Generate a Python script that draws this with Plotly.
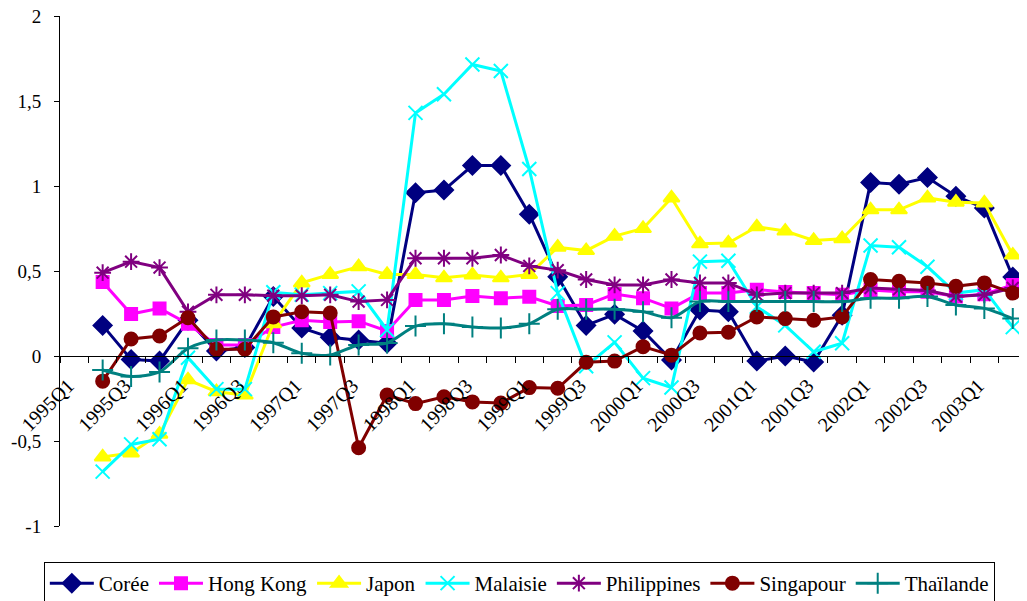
import plotly.graph_objects as go

# Quarters on the category axis (first category has no data)
quarters = [f"{y}Q{q}" for y in range(1995, 2004) for q in range(1, 5)][:34]
tick_labels = quarters[0:33:2]

coree = [0.18, -0.02, -0.03, 0.21, 0.03, 0.05, 0.35, 0.165, 0.11, 0.094, 0.075,
         0.96, 0.976, 1.12, 1.12, 0.834, 0.466, 0.18, 0.245, 0.147, -0.024,
         0.27, 0.26, -0.03, 0.0, -0.035, 0.24, 1.02, 1.01, 1.05, 0.94, 0.87, 0.465]
hong_kong = [0.435, 0.247, 0.28, 0.19, 0.065, 0.065, 0.17, 0.21, 0.20, 0.205, 0.147,
             0.33, 0.33, 0.353, 0.34, 0.348, 0.294, 0.30, 0.365, 0.34, 0.28,
             0.37, 0.37, 0.39, 0.377, 0.37, 0.36, 0.388, 0.378, 0.378, 0.35, 0.363, 0.418]
japon = [-0.594, -0.57, -0.46, -0.14, -0.21, -0.23, 0.19, 0.43, 0.48, 0.525, 0.48,
         0.48, 0.46, 0.477, 0.46, 0.48, 0.64, 0.62, 0.705, 0.75, 0.93,
         0.66, 0.665, 0.76, 0.735, 0.68, 0.69, 0.86, 0.86, 0.93, 0.905, 0.90, 0.594]
malaisie = [-0.68, -0.52, -0.49, -0.01, -0.195, -0.195, 0.375, 0.36, 0.37, 0.38, 0.153,
            1.43, 1.54, 1.715, 1.676, 1.10, 0.37, -0.06, 0.08, -0.13, -0.185,
            0.555, 0.56, 0.29, 0.18, 0.025, 0.075, 0.65, 0.64, 0.525, 0.37, 0.39, 0.17]
philippines = [0.49, 0.555, 0.52, 0.26, 0.36, 0.36, 0.355, 0.355, 0.36, 0.32, 0.33,
               0.575, 0.575, 0.575, 0.594, 0.53, 0.505, 0.45, 0.418, 0.418, 0.45,
               0.43, 0.43, 0.36, 0.37, 0.37, 0.37, 0.40, 0.393, 0.385, 0.35, 0.36, 0.40]
singapour = [-0.148, 0.10, 0.118, 0.225, 0.04, 0.04, 0.23, 0.26, 0.253, -0.54, -0.23,
             -0.28, -0.24, -0.27, -0.277, -0.186, -0.19, -0.037, -0.03, 0.055, 0.005,
             0.135, 0.14, 0.23, 0.22, 0.21, 0.23, 0.45, 0.44, 0.43, 0.41, 0.43, 0.37]
thailande = [-0.082, -0.12, -0.094, 0.045, 0.094, 0.094, 0.078, 0.016, 0.006, 0.065, 0.076,
             0.176, 0.19, 0.17, 0.165, 0.19, 0.275, 0.275, 0.275, 0.26, 0.225,
             0.32, 0.32, 0.32, 0.32, 0.32, 0.32, 0.34, 0.34, 0.35, 0.30, 0.28, 0.22]

y_tickvals = [-1, -0.5, 0, 0.5, 1, 1.5, 2]
y_ticktext = ["-1", "-0,5", "0", "0,5", "1", "1,5", "2"]

x_idx = list(range(1, len(quarters)))
tick_idx = [quarters.index(t) for t in tick_labels]

series = [
    ("Corée", coree, "#000080", "diamond", 14, "linear"),
    ("Hong Kong", hong_kong, "#FF00FF", "square", 12, "linear"),
    ("Japon", japon, "#FFFF00", "triangle-up", 14, "linear"),
    ("Malaisie", malaisie, "#00FFFF", "x-thin-open", 14, "linear"),
    ("Philippines", philippines, "#800080", "asterisk-open", 14, "linear"),
    ("Singapour", singapour, "#800000", "circle", 13, "linear"),
    ("Thaïlande", thailande, "#008080", "cross-thin-open", 15, "spline"),
]

fig = go.Figure()
for name, vals, col, sym, size, shape in series:
    fig.add_trace(go.Scatter(
        x=x_idx, y=vals, name=name, mode="lines+markers",
        line=dict(color=col, width=3, shape=shape, smoothing=0.8),
        marker=dict(symbol=sym, size=size, color=col, line=dict(color=col, width=2)),
    ))

font = "Liberation Serif, Times New Roman, serif"
fig.update_layout(
    width=1019, height=593,
    margin=dict(l=52, r=0, t=8, b=75, autoexpand=False),
    paper_bgcolor="white", plot_bgcolor="white",
    font=dict(family=font, size=19, color="black"),
    showlegend=True,
    legend=dict(orientation="h", x=0.475, xanchor="center", y=-0.0706, yanchor="top",
                bordercolor="black", borderwidth=1, bgcolor="white",
                font=dict(family=font, size=21, color="black"),
                itemwidth=44, tracegroupgap=0),
)
fig.update_xaxes(
    range=[-0.5, len(quarters) - 0.5],
    tickmode="array", tickvals=tick_idx, ticktext=tick_labels,
    tickangle=-45, ticks="", showgrid=False, zeroline=False,
    showline=True, linecolor="black", linewidth=1,
    anchor="free", position=1/3,
    minor=dict(tick0=-0.5, dtick=1, ticks="outside", ticklen=6,
               tickcolor="black", tickwidth=1, showgrid=False),
    tickfont=dict(family=font, size=20, color="black"),
    ticklabeloverflow="allow", ticklabelstandoff=9, ticklabelshift=-6,
)
fig.update_yaxes(
    range=[-1, 2], tickmode="array", tickvals=y_tickvals, ticktext=y_ticktext,
    ticks="outside", ticklen=5, tickcolor="black",
    showgrid=False, zeroline=False, showline=True, linecolor="black", linewidth=1,
    tickfont=dict(family=font, size=19, color="black"),
    ticklabeloverflow="allow", ticklabelstandoff=9,
)

fig.write_html("out.html")
